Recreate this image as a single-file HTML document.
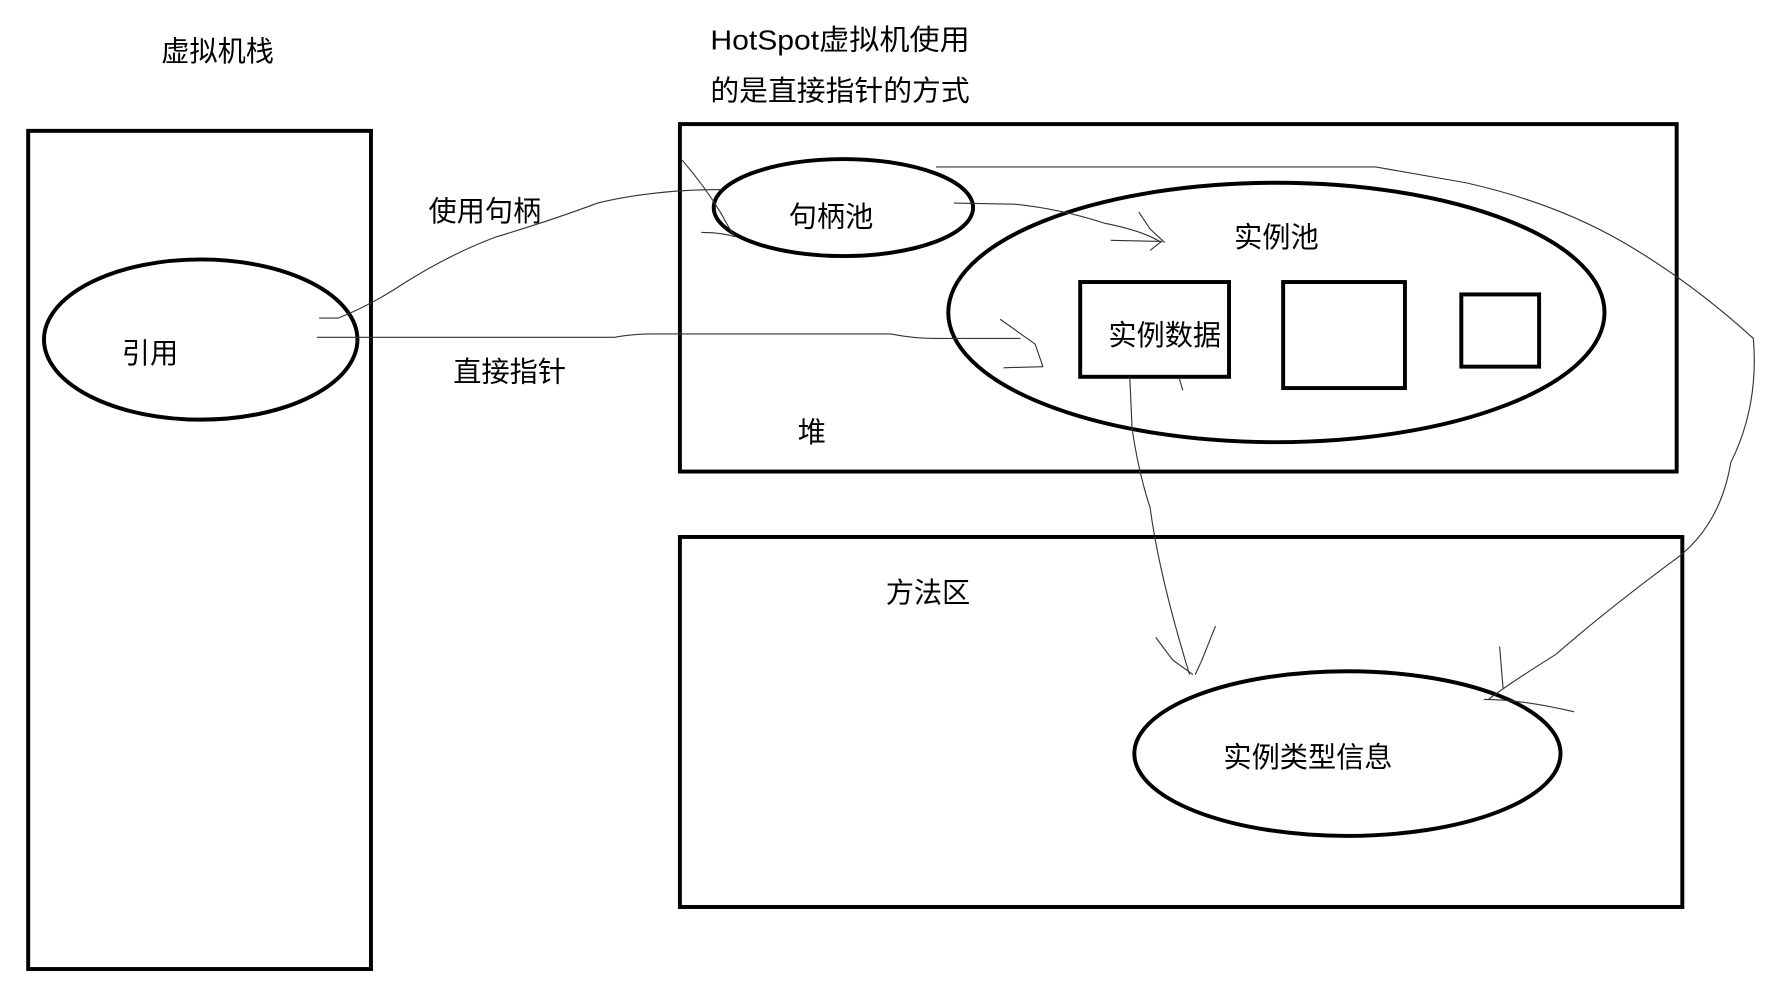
<!DOCTYPE html>
<html><head><meta charset="utf-8"><style>
html,body{margin:0;padding:0;background:#fff;}
svg{display:block;}
text{font-family:"Liberation Sans","Noto Sans CJK SC","Microsoft YaHei",sans-serif;font-size:25px;fill:#000;}
</style></head><body>
<svg width="1768" height="1004" viewBox="0 0 1568 890" preserveAspectRatio="none" xmlns="http://www.w3.org/2000/svg">
<rect x="0" y="0" width="1568" height="890" fill="#fff"/>
<g fill="none" stroke="#000" stroke-width="3.5">
<rect x="25" y="116" width="304" height="743"/>
<ellipse cx="178" cy="301" rx="139" ry="71"/>
<rect x="603" y="110" width="884" height="308"/>
<ellipse cx="748" cy="184" rx="115" ry="43"/>
<ellipse cx="1132" cy="277" rx="291" ry="115"/>
<rect x="958" y="250" width="132" height="84"/>
<rect x="1138" y="250" width="108" height="94"/>
<rect x="1296" y="261" width="69" height="64"/>
<rect x="603" y="476" width="889" height="328"/>
<ellipse cx="1195" cy="668" rx="189" ry="73"/>
</g>
<g fill="none" stroke="#333" stroke-width="1">
<path d="M283 282 L300 282 Q330 270 360 250 Q400 225 440 210 Q490 195 530 180 Q580 168 640 168"/>
<path d="M605 142 Q625 165 640 190 Q648 205 652 210"/>
<path d="M622 206 Q640 206 652 210"/>
<path d="M281 299 L545 299 Q560 296 580 296 L790 296 Q810 300 830 300 L905 300"/>
<path d="M887 283 L918 305 L925 325"/>
<path d="M890 326 L925 325"/>
<path d="M846 180 L900 181 Q940 185 980 198 Q1015 205 1030 215"/>
<path d="M1010 188 L1020 203 L1033 215"/>
<path d="M985 213 L1030 214 L1020 222"/>
<path d="M830 148 L1220 148 Q1260 155 1300 162 Q1380 180 1440 215 Q1500 250 1555 300 Q1560 360 1535 410 Q1525 470 1480 500 Q1420 545 1380 580 Q1340 605 1320 620"/>
<path d="M1330 573 L1333 610"/>
<path d="M1316 620 Q1350 620 1396 631"/>
<path d="M1002 334 L1004 380 Q1010 420 1020 450 Q1028 510 1055 598"/>
<path d="M1025 565 L1040 585 L1058 598"/>
<path d="M1078 555 L1066 585 L1060 598"/>
<path d="M1046 336 L1049 346"/>
</g>
<text x="193" y="54" text-anchor="middle">虚拟机栈</text>
<text x="630" y="44" textLength="230" lengthAdjust="spacingAndGlyphs">HotSpot虚拟机使用</text>
<text x="630" y="89" textLength="230" lengthAdjust="spacingAndGlyphs">的是直接指针的方式</text>
<text x="133" y="322" text-anchor="middle">引用</text>
<text x="430" y="196" text-anchor="middle">使用句柄</text>
<text x="452" y="338" text-anchor="middle">直接指针</text>
<text x="737" y="201" text-anchor="middle">句柄池</text>
<text x="1132" y="219" text-anchor="middle">实例池</text>
<text x="1033" y="306" text-anchor="middle">实例数据</text>
<text x="720" y="392" text-anchor="middle">堆</text>
<text x="823" y="534" text-anchor="middle">方法区</text>
<text x="1160" y="680" text-anchor="middle">实例类型信息</text>
</svg>
</body></html>
